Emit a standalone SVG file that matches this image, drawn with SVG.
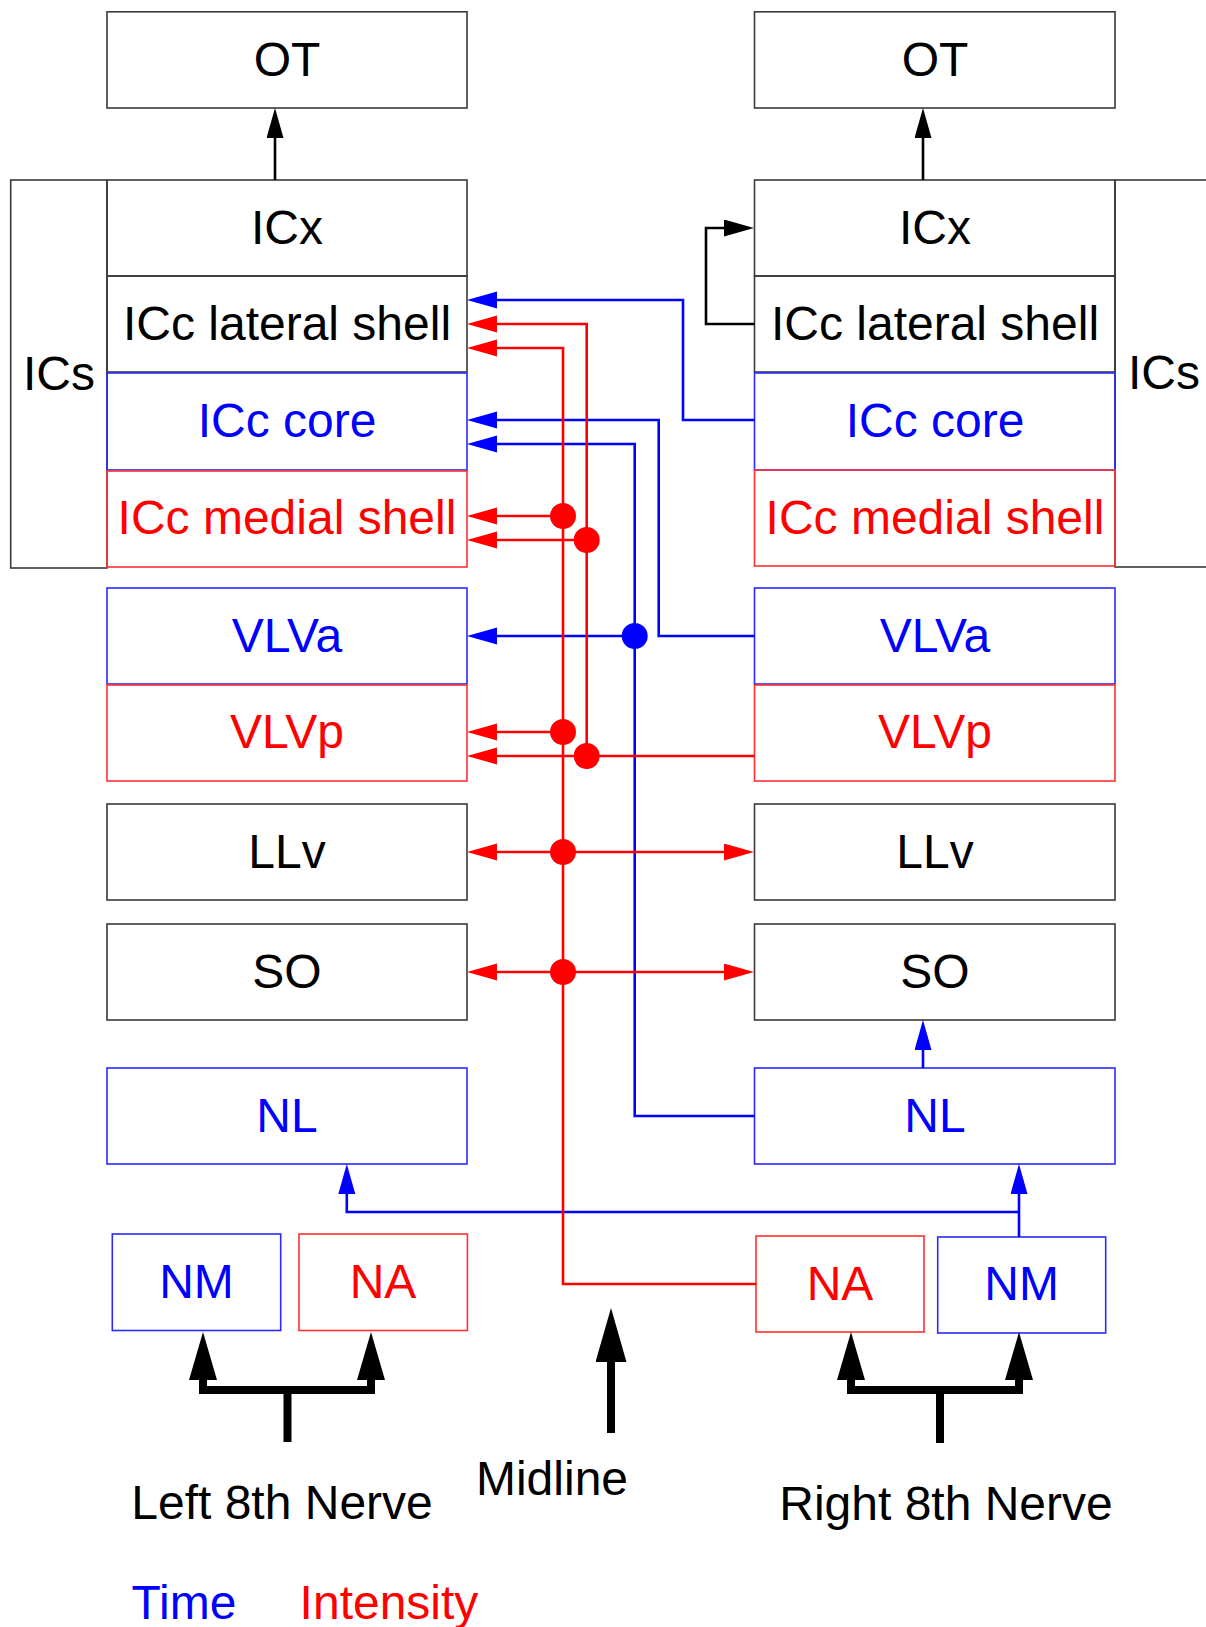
<svg xmlns="http://www.w3.org/2000/svg" width="1206" height="1627" viewBox="0 0 1206 1627">
<style>
text{font-family:"Liberation Sans",Arial,sans-serif;font-size:48px;text-anchor:middle}
.k{fill:#000}.b{fill:#0000ff}.r{fill:#ff0000}
rect{fill:none;stroke-width:1.6}
.bk{stroke:#3a3a3a}.bb{stroke:#2a2aff}.br{stroke:#ff3030}
.cb,.cr,.ck{fill:none;stroke-width:2.6}
.cb{stroke:#0000ff}.cr{stroke:#ff0000}.ck{stroke:#000}
.th{fill:none;stroke:#000;stroke-width:8}
</style>
<defs>
<marker id="ab" markerUnits="userSpaceOnUse" markerWidth="31" markerHeight="18" refX="1" refY="8.5" orient="auto-start-reverse"><path d="M0,0 L30,8.5 L0,17 z" fill="#0000ff"/></marker>
<marker id="ar" markerUnits="userSpaceOnUse" markerWidth="31" markerHeight="18" refX="1" refY="8.5" orient="auto-start-reverse"><path d="M0,0 L30,8.5 L0,17 z" fill="#ff0000"/></marker>
<marker id="ak" markerUnits="userSpaceOnUse" markerWidth="31" markerHeight="18" refX="1" refY="8.5" orient="auto-start-reverse"><path d="M0,0 L30,8.5 L0,17 z" fill="#000"/></marker>
<marker id="at" markerUnits="userSpaceOnUse" markerWidth="49" markerHeight="29" refX="1" refY="14" orient="auto-start-reverse"><path d="M0,0 L48,14 L0,28 z" fill="#000"/></marker>
<marker id="am" markerUnits="userSpaceOnUse" markerWidth="55" markerHeight="32" refX="1" refY="15.5" orient="auto-start-reverse"><path d="M0,0 L54,15.5 L0,31 z" fill="#000"/></marker>
</defs>

<g id="left-ICs"><rect class="bk" x="10.7" y="180" width="96.3" height="388"/><text class="k" x="59" y="390">ICs</text></g>
<g id="right-ICs"><rect class="bk" x="1115" y="180" width="120" height="387"/><text class="k" x="1164" y="389">ICs</text></g>

<g id="left-OT"><rect class="bk" x="107" y="11.8" width="360" height="96.2"/><text class="k" x="287" y="76">OT</text></g>
<g id="left-ICx"><rect class="bk" x="107" y="180" width="360" height="96"/><text class="k" x="287" y="244">ICx</text></g>
<g id="left-ICc-lateral-shell"><rect class="bk" x="107" y="276" width="360" height="96"/><text class="k" x="287" y="340">ICc lateral shell</text></g>
<g id="left-ICc-core"><rect class="bb" x="107" y="373" width="360" height="97"/><text class="b" x="287" y="437">ICc core</text></g>
<g id="left-ICc-medial-shell"><rect class="br" x="107" y="471" width="360" height="96"/><text class="r" x="287" y="534">ICc medial shell</text></g>
<g id="left-VLVa"><rect class="bb" x="107" y="588" width="360" height="96"/><text class="b" x="287" y="652">VLVa</text></g>
<g id="left-VLVp"><rect class="br" x="107" y="685" width="360" height="96"/><text class="r" x="287" y="748">VLVp</text></g>
<g id="left-LLv"><rect class="bk" x="107" y="804" width="360" height="96"/><text class="k" x="287" y="868">LLv</text></g>
<g id="left-SO"><rect class="bk" x="107" y="924" width="360" height="96"/><text class="k" x="287" y="988">SO</text></g>
<g id="left-NL"><rect class="bb" x="107" y="1068" width="360" height="96"/><text class="b" x="287" y="1132">NL</text></g>
<g id="left-NM"><rect class="bb" x="112.3" y="1234" width="168.4" height="96.5"/><text class="b" x="196.5" y="1298">NM</text></g>
<g id="left-NA"><rect class="br" x="299" y="1234" width="168.4" height="96.5"/><text class="r" x="383" y="1298">NA</text></g>

<g id="right-OT"><rect class="bk" x="754.5" y="11.8" width="360.5" height="96.2"/><text class="k" x="935" y="76">OT</text></g>
<g id="right-ICx"><rect class="bk" x="754.5" y="180" width="360.5" height="96"/><text class="k" x="935" y="244">ICx</text></g>
<g id="right-ICc-lateral-shell"><rect class="bk" x="754.5" y="276" width="360.5" height="96"/><text class="k" x="935" y="340">ICc lateral shell</text></g>
<g id="right-ICc-core"><rect class="bb" x="754.5" y="373" width="360.5" height="97"/><text class="b" x="935" y="437">ICc core</text></g>
<g id="right-ICc-medial-shell"><rect class="br" x="754.5" y="470" width="360.5" height="96"/><text class="r" x="935" y="534">ICc medial shell</text></g>
<g id="right-VLVa"><rect class="bb" x="754.5" y="588" width="360.5" height="96"/><text class="b" x="935" y="652">VLVa</text></g>
<g id="right-VLVp"><rect class="br" x="754.5" y="685" width="360.5" height="96"/><text class="r" x="935" y="748">VLVp</text></g>
<g id="right-LLv"><rect class="bk" x="754.5" y="804" width="360.5" height="96"/><text class="k" x="935" y="868">LLv</text></g>
<g id="right-SO"><rect class="bk" x="754.5" y="924" width="360.5" height="96"/><text class="k" x="935" y="988">SO</text></g>
<g id="right-NL"><rect class="bb" x="754.5" y="1068" width="360.5" height="96"/><text class="b" x="935" y="1132">NL</text></g>
<g id="right-NA"><rect class="br" x="756" y="1236" width="168" height="96"/><text class="r" x="840" y="1300">NA</text></g>
<g id="right-NM"><rect class="bb" x="937.7" y="1237" width="168" height="96"/><text class="b" x="1021.7" y="1300">NM</text></g>

<g id="connectors">
<path class="ck" d="M275,180 V137" marker-end="url(#ak)"/>
<path class="ck" d="M923,180 V137" marker-end="url(#ak)"/>
<path class="ck" d="M754.5,324 H706 V228 H725" marker-end="url(#ak)"/>

<path class="cb" d="M754.5,420 H683 V300 H496" marker-end="url(#ab)"/>
<path class="cb" d="M754.5,636 H658.7 V420 H496" marker-end="url(#ab)"/>
<path class="cb" d="M754.5,1116 H634.7 V444 H496" marker-end="url(#ab)"/>
<path class="cb" d="M634.7,636 H496" marker-end="url(#ab)"/>
<circle cx="634.7" cy="636" r="13" fill="#0000ff"/>
<path class="cb" d="M1019,1237 V1193" marker-end="url(#ab)"/>
<path class="cb" d="M1019,1212 H346.8 V1193" marker-end="url(#ab)"/>
<path class="cb" d="M923,1068 V1049" marker-end="url(#ab)"/>

<path class="cr" d="M756,1284 H563 V348 H496" marker-end="url(#ar)"/>
<path class="cr" d="M563,516 H496" marker-end="url(#ar)"/>
<path class="cr" d="M563,732 H496" marker-end="url(#ar)"/>
<path class="cr" d="M496,852 H725" marker-start="url(#ar)" marker-end="url(#ar)"/>
<path class="cr" d="M496,972 H725" marker-start="url(#ar)" marker-end="url(#ar)"/>
<path class="cr" d="M754.5,756 H496" marker-end="url(#ar)"/>
<path class="cr" d="M586.7,756 V324 H496" marker-end="url(#ar)"/>
<path class="cr" d="M586.7,540 H496" marker-end="url(#ar)"/>
<circle cx="563" cy="516" r="13" fill="#ff0000"/>
<circle cx="563" cy="732" r="13" fill="#ff0000"/>
<circle cx="563" cy="852" r="13" fill="#ff0000"/>
<circle cx="563" cy="972" r="13" fill="#ff0000"/>
<circle cx="586.7" cy="540" r="13" fill="#ff0000"/>
<circle cx="586.7" cy="756" r="13" fill="#ff0000"/>

<path class="th" d="M203,1379 V1390 H371 V1379" marker-start="url(#at)" marker-end="url(#at)"/>
<path class="th" d="M287.5,1390 V1442"/>
<path class="th" d="M611,1433 V1361" marker-end="url(#am)"/>
<path class="th" d="M851,1379 V1390 H1019 V1379" marker-start="url(#at)" marker-end="url(#at)"/>
<path class="th" d="M940,1390 V1443"/>
</g>

<g id="labels">
<text class="k" x="282" y="1519">Left 8th Nerve</text>
<text class="k" x="552" y="1495">Midline</text>
<text class="k" x="946" y="1520">Right 8th Nerve</text>
<text class="b" x="184" y="1619">Time</text>
<text class="r" x="389" y="1619">Intensity</text>
</g>
</svg>
